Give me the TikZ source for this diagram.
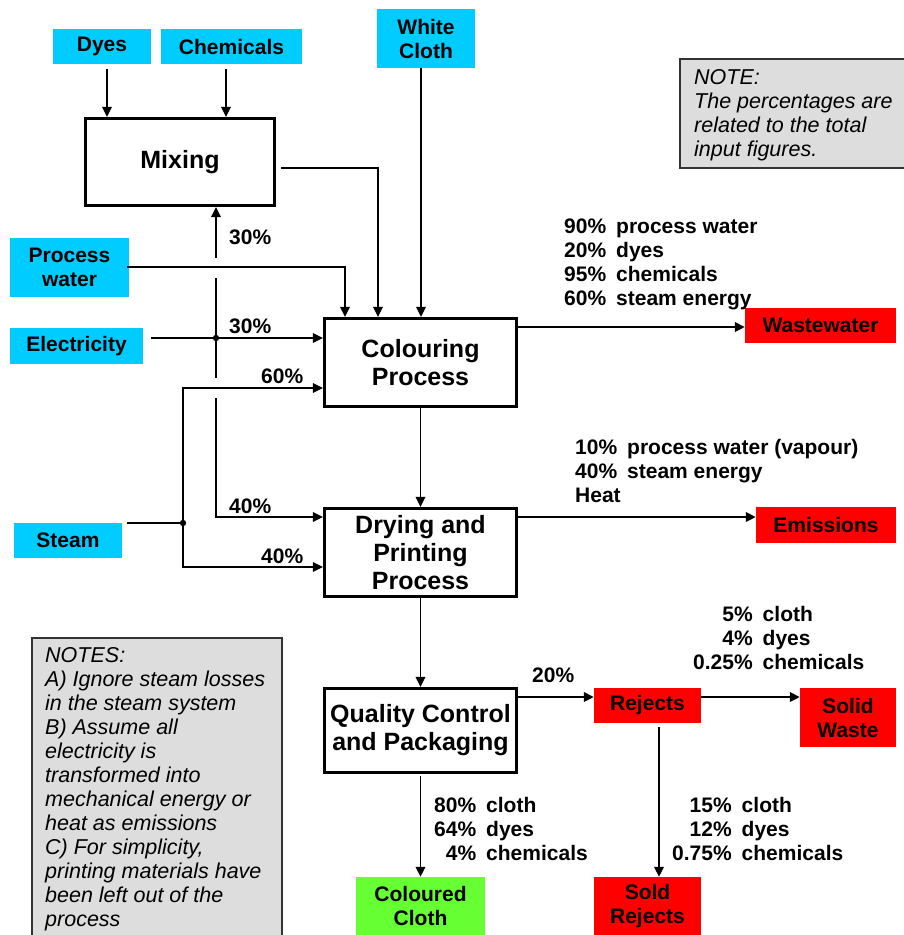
\documentclass[tikz,border=0pt]{standalone}
\usepackage{fontspec}
\setmainfont{Liberation Sans}
\usetikzlibrary{arrows.meta}

\definecolor{inblue}{HTML}{00CCFF}
\definecolor{outred}{HTML}{FF0000}
\definecolor{outgreen}{HTML}{66FF33}
\definecolor{notegrey}{HTML}{DDDDDD}

\newcommand{\lblfont}{\fontsize{21}{24}\selectfont\bfseries}
\newcommand{\procfont}{\fontsize{25}{28}\selectfont\bfseries}
\newcommand{\notefont}{\fontsize{21.5}{24}\selectfont\itshape}

\tikzset{
  flow/.style={line width=1.8pt},
  arr/.style={flow, -{Triangle[length=10pt,width=9.5pt]}},
  inbox/.style={fill=inblue, inner sep=0pt, align=center, font=\lblfont},
  outbox/.style={fill=outred, inner sep=0pt, align=center, font=\lblfont},
  prodbox/.style={fill=outgreen, inner sep=0pt, align=center, font=\lblfont},
  procbox/.style={draw, line width=3.2pt, fill=white, inner sep=0pt, align=center, font=\procfont},
  notebox/.style={draw=black!80, line width=1.5pt, fill=notegrey, inner sep=0pt, anchor=north west},
  notetext/.style={inner sep=0pt, anchor=base west, font=\notefont},
  flowlabel/.style={inner sep=0pt, anchor=base west, font=\lblfont},
}

\begin{document}
\begin{tikzpicture}[x=1pt, y=-1pt]
\useasboundingbox (0,0) rectangle (903,935);

% ---------- inputs ----------
\node[inbox, minimum width=98, minimum height=35] (dyes) at (102,46.5) {Dyes};
\node[inbox, minimum width=141, minimum height=35] (chem) at (231.5,46.5) {Chemicals};
\node[inbox, minimum width=98, minimum height=59] (white) at (426,38.5) {White\\Cloth};
\node[inbox, minimum width=119, minimum height=59] (pw) at (69.5,267.5) {Process\\water};
\node[inbox, minimum width=133, minimum height=36] (elec) at (76.5,346) {Electricity};
\node[inbox, minimum width=108, minimum height=35] (steam) at (68,540.5) {Steam};

% ---------- process steps ----------
\node[procbox, minimum width=189, minimum height=87] (mix) at (180,162) {Mixing};
\node[procbox, minimum width=192, minimum height=88] (col) at (420.5,362.5) {Colouring\\Process};
\node[procbox, minimum width=192, minimum height=88] (dry) at (420.5,552.5) {Drying and\\Printing\\Process};
\node[procbox, minimum width=192, minimum height=84] (qc) at (420.5,730.5) {Quality Control\\and Packaging};

% ---------- outputs ----------
\node[outbox, minimum width=151, minimum height=35] (ww) at (820.5,325.5) {Wastewater};
\node[outbox, minimum width=140, minimum height=36] (emis) at (826,525) {Emissions};
\node[outbox, minimum width=107, minimum height=35] (rej) at (647.5,705.5) {Rejects};
\node[outbox, minimum width=96, minimum height=59] (sw) at (848,717.5) {Solid\\Waste};
\node[outbox, minimum width=107, minimum height=58] (sr) at (647.5,906) {Sold\\Rejects};
\node[prodbox, minimum width=129, minimum height=58] (cc) at (420.5,906) {Coloured\\Cloth};

% ---------- notes ----------
\node[notebox, minimum width=226, minimum height=109] (note) at (679,58) {};
\node[notetext] (notetxt) at ([xshift=15,yshift=-26]note.north west)
  {\begin{tabular}[t]{@{}l@{}}NOTE:\\The percentages are\\related to the total\\input figures.\end{tabular}};

\node[notebox, minimum width=250, minimum height=310] (notes) at (31,637) {};
\node[notetext] (notestxt) at ([xshift=14,yshift=-25]notes.north west)
  {\begin{tabular}[t]{@{}l@{}}NOTES:\\A) Ignore steam losses\\in the steam system\\B) Assume all\\electricity is\\transformed into\\mechanical energy or\\heat as emissions\\C) For simplicity,\\printing materials have\\been left out of the\\process\end{tabular}};

% ---------- material inputs ----------
\draw[arr] ([xshift=5,yshift=-5]dyes.south) coordinate (d0) -- (d0 |- mix.north);
\draw[arr] ([xshift=-5.5,yshift=-5]chem.south) coordinate (c0) -- (c0 |- mix.north);
\draw[arr] ([xshift=5,yshift=-6]mix.east) coordinate (m0) -| ([xshift=-42.5]col.north);
\draw[arr] ([xshift=-5]white.south) coordinate (w0) -- (w0 |- col.north);
\draw[arr] ([xshift=-2,yshift=0.5]pw.east) -| ([xshift=-75.5]col.north);

% ---------- electricity distribution ----------
\coordinate (ej) at (216,338);
\coordinate (sj) at (183,523);
\coordinate (stop) at (183,388);
\coordinate (sbot) at (183,567);
\coordinate (edn) at (216,517);
\coordinate (xpw) at (ej |- pw.east);
\coordinate (xst) at (ej |- stop);

\draw[arr] ([xshift=8,yshift=8]elec.east) -- (ej) -- (ej -| col.west);
\draw[flow] (ej) -- ([yshift=-10]xpw);
\draw[arr] ([yshift=10]xpw) -- (xpw |- mix.south);
\draw[flow] (ej) -- ([yshift=10]xst);
\draw[arr] ([yshift=-10]xst) -- (edn) -- (edn -| dry.west);
\fill (ej) circle (3.2);

% ---------- steam distribution ----------
\draw[flow] ([xshift=5,yshift=17.5]steam.east) -- (sj);
\draw[arr] (sj) -- (stop) -- (stop -| col.west);
\draw[arr] (sj) -- (sbot) -- (sbot -| dry.west);
\fill (sj) circle (3.2);

% ---------- main process chain ----------
\draw[arr] (col.south) -- (dry.north);
\draw[arr] (dry.south) -- (qc.north);
\draw[arr] ([yshift=35.5]col.east) coordinate (c1) -- (c1 -| ww.west);
\draw[arr] ([yshift=35.5]dry.east) coordinate (d1) -- (d1 -| emis.west);
\draw[arr] ([yshift=33.5]qc.east) coordinate (q1) -- (q1 -| rej.west);
\draw[arr] ([yshift=8.5]rej.east) coordinate (r1) -- (r1 -| sw.west);
\draw[arr] ([xshift=11.5,yshift=-4]rej.south) coordinate (r2) -- (r2 |- sr.north);
\draw[arr] ([yshift=-2]qc.south) -- (cc.north);

% ---------- flow labels ----------
\node[flowlabel] (l30a) at (229,244) {30\%};
\node[flowlabel] (l30b) at (229,333) {30\%};
\node[flowlabel] (l60) at (261,383) {60\%};
\node[flowlabel] (l40a) at (229,513) {40\%};
\node[flowlabel] (l40b) at (261,563) {40\%};
\node[flowlabel] (l20) at (532,682) {20\%};

\node[flowlabel] (wwlbl) at (564,233)
  {\begin{tabular}[t]{@{}r@{\hspace{10pt}}l@{}}90\%&process water\\20\%&dyes\\95\%&chemicals\\60\%&steam energy\end{tabular}};
\node[flowlabel] (emlbl) at (575,454)
  {\begin{tabular}[t]{@{}r@{\hspace{10pt}}l@{}}10\%&process water (vapour)\\40\%&steam energy\\\multicolumn{2}{@{}l@{}}{Heat}\end{tabular}};
\node[flowlabel] (swlbl) at (693,621)
  {\begin{tabular}[t]{@{}r@{\hspace{10pt}}l@{}}5\%&cloth\\4\%&dyes\\0.25\%&chemicals\end{tabular}};
\node[flowlabel] (srlbl) at (672,812)
  {\begin{tabular}[t]{@{}r@{\hspace{10pt}}l@{}}15\%&cloth\\12\%&dyes\\0.75\%&chemicals\end{tabular}};
\node[flowlabel] (cclbl) at (434,812)
  {\begin{tabular}[t]{@{}r@{\hspace{10pt}}l@{}}80\%&cloth\\64\%&dyes\\4\%&chemicals\end{tabular}};
\end{tikzpicture}
\end{document}
